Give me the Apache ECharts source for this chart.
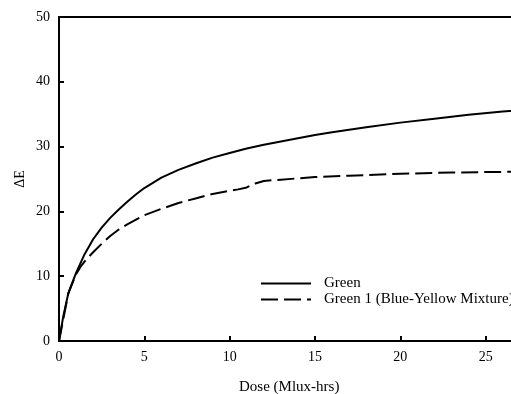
<!DOCTYPE html>
<html>
<head>
<meta charset="utf-8">
<script src="https://cdn.jsdelivr.net/npm/echarts@6/dist/echarts.min.js"></script>
<style>
html,body{margin:0;padding:0;overflow:hidden;background:#fff;width:511px;height:394px;}
#chart{width:600px;height:394px;}
</style>
</head>
<body>
<div id="chart"></div>
<script>
var seriesNames = ['Green', 'Green 1 (Blue-Yellow Mixture)'];
var greenX = [0, 0.25, 0.55, 1.0, 1.5, 2.0, 2.5, 3.0, 3.5, 4.0, 4.5, 5.0, 6.0, 7.0, 8.0, 9.0, 10.0, 11.0, 12.0, 13.0, 14.0, 15.0, 16.0, 18.0, 20.0, 22.0, 24.0, 26.0, 27.0];
var greenY = [0, 3.8, 7.4, 10.5, 13.4, 15.7, 17.5, 19.0, 20.3, 21.5, 22.6, 23.6, 25.2, 26.4, 27.4, 28.3, 29.0, 29.7, 30.3, 30.8, 31.3, 31.8, 32.2, 33.0, 33.7, 34.3, 34.9, 35.4, 35.6];
var mixX = [0, 0.55, 1.0, 1.3, 1.6, 2.0, 2.5, 3.0, 3.5, 4.0, 5.0, 6.0, 7.0, 8.0, 9.0, 10.0, 10.5, 11.0, 11.5, 12.0, 13.0, 14.0, 15.0, 17.0, 20.0, 23.0, 26.0, 27.0];
var mixY = [0, 7.4, 10.3, 11.6, 12.6, 13.7, 15.0, 16.2, 17.2, 18.0, 19.4, 20.4, 21.3, 22.0, 22.7, 23.2, 23.4, 23.7, 24.3, 24.7, 24.9, 25.1, 25.3, 25.5, 25.8, 26.0, 26.1, 26.1];
var xTicks = [0, 5, 10, 15, 20, 25, 30];
var yTicks = [0, 10, 20, 30, 40, 50];
var xTitle = 'Dose (Mlux-hrs)';
var yTitle = 'ΔE';

function pairs(xs, ys) { return xs.map(function (x, i) { return [x, ys[i]]; }); }

var font = '"Liberation Serif", "Times New Roman", serif';
var chart = echarts.init(document.getElementById('chart'), null, {renderer: 'canvas'});
chart.setOption({
  animation: false,
  backgroundColor: '#fff',
  grid: {left: 59, top: 17, right: 29, bottom: 53, show: true, borderColor: '#000', borderWidth: 2, backgroundColor: 'transparent'},
  legend: {
    orient: 'vertical', left: 255, top: 271, itemWidth: 50, itemHeight: 8, itemGap: 1,
    data: seriesNames,
    itemStyle: {opacity: 0},
    textStyle: {fontFamily: font, fontSize: 15, color: '#000', padding: [0, 0, 0, 8], lineHeight: 12, height: 12}
  },
  xAxis: {
    type: 'value', min: xTicks[0], max: xTicks[xTicks.length - 1], interval: 5,
    axisLine: {lineStyle: {color: '#000', width: 2}},
    axisTick: {inside: true, length: 5, lineStyle: {color: '#000', width: 2}},
    axisLabel: {fontFamily: font, fontSize: 14, color: '#000', margin: 9},
    splitLine: {show: false}
  },
  yAxis: {
    type: 'value', min: yTicks[0], max: yTicks[yTicks.length - 1], interval: 10,
    axisLine: {lineStyle: {color: '#000', width: 2}},
    axisTick: {inside: true, length: 5, lineStyle: {color: '#000', width: 2}},
    axisLabel: {fontFamily: font, fontSize: 14, color: '#000', margin: 9},
    splitLine: {show: false}
  },
  graphic: [{
    type: 'text', left: 239, top: 380,
    style: {text: xTitle, font: '15px ' + font, fill: '#000'}
  }, {
    type: 'text', x: 20, y: 179, rotation: Math.PI / 2,
    style: {text: yTitle, font: '14px ' + font, fill: '#000', align: 'center', verticalAlign: 'middle'}
  }],
  series: [{
    name: seriesNames[0], type: 'line', data: pairs(greenX, greenY),
    showSymbol: false, symbol: 'none', smooth: false,
    lineStyle: {color: '#000', width: 2}, itemStyle: {color: '#000'}
  }, {
    name: seriesNames[1], type: 'line', data: pairs(mixX, mixY),
    showSymbol: false, symbol: 'none', smooth: false,
    lineStyle: {color: '#000', width: 2, type: [17, 6]}, itemStyle: {color: '#000'}
  }]
});
</script>
</body>
</html>
